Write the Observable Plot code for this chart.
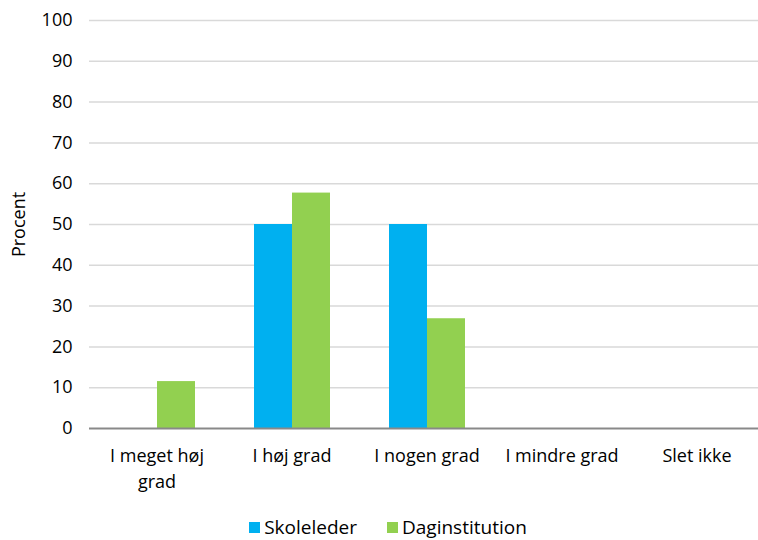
<!DOCTYPE html>
<html>
<head>
<meta charset="utf-8">
<script src="https://cdn.jsdelivr.net/npm/d3@7"></script>
<script src="https://cdn.jsdelivr.net/npm/@observablehq/plot@0.6"></script>
<style>
  html, body { margin: 0; padding: 0; background: #fff; overflow: hidden; }
  body { width: 758px; height: 540px; font-family: "Open Sans", Roboto, sans-serif; }
  #chart svg { display: block; max-width: none !important; }
  #legend { display: flex; justify-content: center; gap: 30px; font-size: 19px; color: #000; margin-top: 6px; padding-left: 18px; line-height: 22px; }
  #legend span.item { display: flex; align-items: center; }
  #legend span.sw { width: 11px; height: 11px; display: inline-block; margin-right: 4px; }
</style>
</head>
<body>
<div id="chart"></div>
<script>
const categories = ["I meget høj grad", "I høj grad", "I nogen grad", "I mindre grad", "Slet ikke"];
const tickLabels = ["I meget høj\ngrad", "I høj grad", "I nogen grad", "I mindre grad", "Slet ikke"];
const series = ["Skoleleder", "Daginstitution"];
const skoleleder = [0, 50, 50, 0, 0];
const daginstitution = [11.5, 57.7, 26.9, 0, 0];
const colors = ["#00B0F0", "#92D050"];
const yTicks = [0, 10, 20, 30, 40, 50, 60, 70, 80, 90, 100];

const data = [];
categories.forEach((c, i) => {
  data.push({category: c, series: series[0], value: skoleleder[i]});
  data.push({category: c, series: series[1], value: daginstitution[i]});
});
const labelMap = new Map(categories.map((c, i) => [c, tickLabels[i]]));

const chart = Plot.plot({
  width: 766,
  height: 510,
  marginLeft: 87,
  marginRight: 0,
  marginTop: 20,
  marginBottom: 82,
  facet: {marginTop: 0, marginBottom: 0, marginLeft: 0, marginRight: 0},
  style: {fontFamily: "'Open Sans', Roboto, sans-serif", fontSize: "18px", color: "#000", background: "#fff", maxWidth: "none"},
  fx: {domain: categories, paddingInner: 0, paddingOuter: 0, label: null, axis: null},
  x: {domain: series, paddingInner: 0, paddingOuter: 0.75, axis: null},
  y: {domain: [0, 100], axis: null},
  color: {domain: series, range: colors},
  marks: [
    Plot.ruleY(yTicks.filter(d => d > 0), {stroke: "#d9d9d9", strokeWidth: 1.5}),
    Plot.barY(data, {fx: "category", x: "series", y: "value", fill: "series", inset: 0}),
    Plot.ruleY([0], {stroke: "#898989", strokeWidth: 2}),
    Plot.axisY({ticks: yTicks, tickSize: 0, tickPadding: 17, fontSize: 18, label: "Procent", labelAnchor: "center", labelArrow: "none", labelOffset: 77}),
    Plot.axisFx({anchor: "bottom", tickSize: 0, tickPadding: 15, fontSize: 18, lineHeight: 1.45, label: null, tickFormat: d => labelMap.get(d)})
  ]
});
document.getElementById("chart").appendChild(chart);

const legend = document.createElement("div");
legend.id = "legend";
series.forEach((s, i) => {
  const item = document.createElement("span");
  item.className = "item";
  const sw = document.createElement("span");
  sw.className = "sw";
  sw.style.background = colors[i];
  item.appendChild(sw);
  item.appendChild(document.createTextNode(s));
  legend.appendChild(item);
});
document.body.appendChild(legend);
</script>
</body>
</html>
